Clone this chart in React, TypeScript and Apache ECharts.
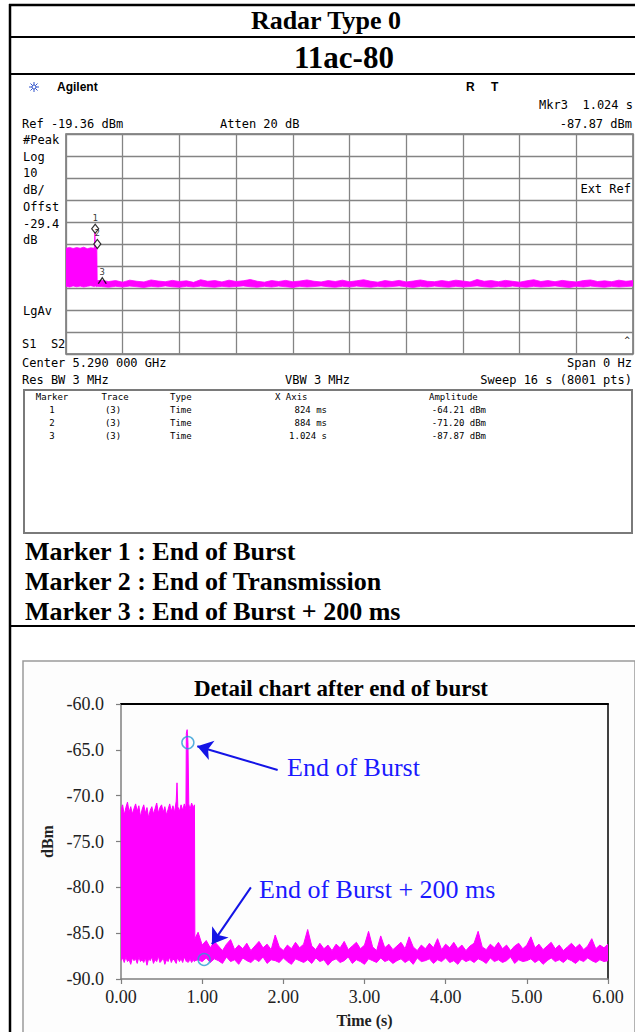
import React, { useEffect, useRef } from "react";
import * as echarts from "echarts";

const W = 635;
const H = 1032;

// ---------- Header texts ----------
const TITLE_1 = "Radar Type 0";
const TITLE_2 = "11ac-80";

// ---------- Spectrum analyzer (sweep 16 s, ref -19.36 dBm, 10 dB/div) ----------
const AN_REF = -19.36;
const AN_DB_PER_DIV = 10;
const AN_SWEEP = 16;
const AN_T = [
  0, 0.1, 0.2, 0.3, 0.4, 0.5, 0.6, 0.7, 0.8, 0.815, 0.83, 0.87, 0.88,
  1.0, 1.2, 1.4, 1.6, 1.8, 2.0, 2.2, 2.4, 2.6, 2.8, 3.0, 3.2, 3.4, 3.6, 3.8,
  4.0, 4.2, 4.4, 4.6, 4.8, 5.0, 5.2, 5.4, 5.6, 5.8, 6.0, 6.2, 6.4, 6.6, 6.8,
  7.0, 7.2, 7.4, 7.6, 7.8, 8.0, 8.2, 8.4, 8.6, 8.8, 9.0, 9.2, 9.4, 9.6, 9.8,
  10.0, 10.2, 10.4, 10.6, 10.8, 11.0, 11.2, 11.4, 11.6, 11.8, 12.0, 12.2, 12.4,
  12.6, 12.8, 13.0, 13.2, 13.4, 13.6, 13.8, 14.0, 14.2, 14.4, 14.6, 14.8, 15.0,
  15.2, 15.4, 15.6, 15.8, 16.0,
];
const AN_HI = [
  -71.3, -70.9, -71.4, -71.0, -71.3, -70.8, -71.5, -71.1, -71.3, -64.2, -71.0, -71.2, -86.0,
  -85.9, -86.4, -86.0, -86.7, -85.8, -86.3, -86.6, -85.7, -86.2, -86.5, -85.9, -86.4, -86.1, -86.8, -85.6,
  -86.3, -86.0, -86.6, -85.8, -86.4, -86.1, -85.5, -86.3, -86.7, -86.0, -86.4, -85.9, -86.5, -86.2, -85.7,
  -86.3, -86.6, -86.0, -86.4, -85.8, -86.5, -86.1, -85.6, -86.3, -86.7, -86.0, -86.4, -85.9, -86.6, -86.2,
  -85.7, -86.3, -86.5, -86.0, -86.4, -85.8, -86.2, -86.6, -85.5, -86.3, -86.0, -86.5, -85.9,
  -86.3, -86.7, -86.1, -85.6, -86.4, -86.0, -86.5, -85.9, -86.3, -86.6, -86.0, -85.7, -86.4,
  -86.1, -86.5, -85.8, -86.3, -86.0,
];
const AN_LO = [
  -88.6, -88.9, -88.4, -88.8, -88.5, -88.9, -88.6, -88.3, -88.7, -88.6, -88.5, -88.8, -88.6,
  -88.7, -89.0, -88.6, -88.9, -88.5, -88.8, -89.1, -88.6, -88.9, -88.4, -88.8, -89.0, -88.6, -88.9, -88.5,
  -88.8, -89.0, -88.6, -88.9, -88.7, -88.4, -88.8, -89.0, -88.6, -88.9, -88.5, -88.8, -89.1, -88.6, -88.9,
  -88.7, -88.4, -88.8, -89.0, -88.6, -88.9, -88.5, -88.8, -89.0, -88.6, -88.9, -88.7, -88.4, -88.8, -89.1,
  -88.6, -88.9, -88.5, -88.8, -89.0, -88.6, -88.9, -88.7, -88.4, -88.8, -89.0, -88.6, -88.9,
  -88.5, -88.8, -89.0, -88.6, -88.9, -88.7, -88.4, -88.8, -89.1, -88.6, -88.9, -88.5, -88.8,
  -89.0, -88.6, -88.9, -88.7, -88.5,
];

// markers (time s, amplitude dBm)
const MARKER_NO = ["1", "2", "3"];
const MARKER_T = [0.824, 0.884, 1.024];
const MARKER_DBM = [-64.21, -71.2, -87.87];
const MARKER_XTXT = ["824 ms", "884 ms", "1.024 s"];
const MARKER_AMPTXT = ["-64.21 dBm", "-71.20 dBm", "-87.87 dBm"];

// ---------- Detail chart ----------
const DT_T = [
  0.0, 0.02, 0.04, 0.06, 0.08, 0.1, 0.12, 0.14, 0.16, 0.18, 0.2, 0.22, 0.24, 0.26, 0.28,
  0.3, 0.32, 0.34, 0.36, 0.38, 0.4, 0.42, 0.44, 0.46, 0.48, 0.5, 0.52, 0.54, 0.56, 0.58,
  0.6, 0.62, 0.64, 0.66, 0.68, 0.69, 0.7, 0.72, 0.74, 0.76, 0.78, 0.8, 0.805, 0.815, 0.825,
  0.835, 0.85, 0.87, 0.89, 0.905, 0.91, 0.95,
  1.0, 1.05, 1.1, 1.15, 1.2, 1.25, 1.3, 1.35, 1.4, 1.45, 1.5, 1.55, 1.6, 1.65, 1.7, 1.75,
  1.8, 1.85, 1.9, 1.95, 2.0, 2.05, 2.1, 2.15, 2.2, 2.25, 2.3, 2.35, 2.4, 2.45, 2.5, 2.55,
  2.6, 2.65, 2.7, 2.75, 2.8, 2.85, 2.9, 2.95, 3.0, 3.05, 3.1, 3.15, 3.2, 3.25, 3.3, 3.35,
  3.4, 3.45, 3.5, 3.55, 3.6, 3.65, 3.7, 3.75, 3.8, 3.85, 3.9, 3.95, 4.0, 4.05, 4.1, 4.15,
  4.2, 4.25, 4.3, 4.35, 4.4, 4.45, 4.5, 4.55, 4.6, 4.65, 4.7, 4.75, 4.8, 4.85, 4.9, 4.95,
  5.0, 5.05, 5.1, 5.15, 5.2, 5.25, 5.3, 5.35, 5.4, 5.45, 5.5, 5.55, 5.6, 5.65, 5.7, 5.75,
  5.8, 5.85, 5.9, 5.95, 6.0,
];
const DT_HI = [
  -71.6, -71.0, -72.1, -71.3, -70.7, -71.8, -71.2, -72.0, -71.4, -70.9, -71.7, -71.1, -72.3, -71.5, -71.0,
  -71.9, -71.3, -72.4, -71.6, -71.2, -72.0, -71.4, -70.8, -71.9, -71.3, -71.0, -71.8, -71.2, -72.1, -71.5,
  -70.9, -71.7, -71.1, -71.8, -70.6, -68.6, -71.2, -71.7, -71.0, -71.6, -70.9, -71.4, -63.2, -62.8, -64.2,
  -70.9, -71.5, -70.8, -71.3, -71.0, -85.6, -84.9,
  -86.3, -85.8, -86.6, -85.9, -86.4, -86.9, -86.2, -85.7, -86.8, -86.3, -86.7, -86.1, -86.9, -86.4, -85.9, -86.6,
  -86.2, -86.8, -85.2, -86.5, -86.9, -86.3, -86.7, -86.0, -86.6, -86.2, -84.6, -86.4, -86.8, -86.1, -86.7, -86.3,
  -86.9, -86.2, -86.6, -85.9, -86.8, -86.4, -86.0, -86.7, -86.3, -84.8, -86.5, -86.9, -85.3, -86.6, -86.2, -86.8,
  -86.4, -86.0, -86.7, -85.4, -86.5, -86.9, -86.3, -86.7, -86.1, -86.6, -85.6, -86.8, -86.2, -86.6, -86.0, -86.7,
  -86.3, -86.9, -86.4, -86.1, -84.8, -86.5, -86.8, -86.2, -86.6, -86.0, -86.7, -86.3, -86.9, -86.4, -86.1, -86.7,
  -86.3, -85.4, -86.6, -86.2, -86.8, -86.4, -86.0, -86.7, -86.3, -86.9, -86.5, -86.1, -86.6, -86.2, -86.8, -86.4,
  -85.6, -86.7, -86.3, -86.6, -86.2,
];
const DT_LO = [
  -88.0, -87.7, -88.2, -87.6, -88.1, -87.9, -88.4, -87.7, -88.0, -87.8, -88.3, -87.6, -88.1, -87.9, -88.2,
  -87.7, -88.5, -87.8, -88.0, -87.6, -88.3, -87.9, -88.1, -87.5, -88.2, -88.0, -87.7, -88.4, -87.9, -88.1,
  -87.6, -88.2, -87.8, -88.0, -88.3, -87.9, -87.7, -88.1, -87.8, -88.2, -87.6, -88.0, -88.1, -87.9, -88.2,
  -88.1, -87.8, -88.2, -87.9, -88.1, -88.0, -87.9,
  -88.1, -87.7, -88.2, -87.8, -88.0, -88.3, -87.6, -88.1, -87.9, -88.4, -87.7, -88.0, -88.2, -87.8, -88.1, -87.6,
  -88.3, -87.9, -88.0, -88.2, -87.7, -88.1, -88.4, -87.8, -88.0, -88.2, -87.9, -88.3, -87.7, -88.1, -87.9, -88.5,
  -88.0, -87.8, -88.2, -88.0, -87.6, -88.3, -87.9, -88.1, -88.4, -87.8, -88.0, -88.2, -87.7, -88.1, -87.9, -88.3,
  -88.0, -87.8, -88.2, -87.9, -88.4, -87.7, -88.1, -88.0, -87.8, -88.3, -87.9, -88.1, -87.7, -88.2, -88.0, -88.4,
  -87.8, -88.1, -87.9, -88.2, -87.8, -88.0, -88.3, -87.7, -88.1, -87.9, -88.2, -88.0, -87.6, -88.3, -87.9, -88.1,
  -88.0, -87.8, -88.2, -87.9, -88.4, -88.0, -87.7, -88.1, -87.9, -88.2, -87.8, -88.0, -88.3, -87.9, -88.1, -87.7,
  -88.0, -88.2, -87.9, -88.1, -88.0,
];
const DT_X_TICKS = [0, 1, 2, 3, 4, 5, 6];
const DT_Y_TICKS = [-90, -85, -80, -75, -70, -65, -60];
// annotation arrows [tailT, tailDbm, headT, headDbm]
const ARROW_BURST = [1.93, -67.2, 0.94, -64.6];
const ARROW_200 = [1.6, -80.0, 1.12, -86.2];

const MAGENTA = "#ff00ff";
const SERIF = "'Liberation Serif', 'Times New Roman', serif";
const MONO = "'DejaVu Sans Mono', 'Liberation Mono', monospace";

function txt(
  text: string,
  x: number,
  y: number,
  font: string,
  align: string = "left",
  fill: string = "#000",
  scaleX: number = 1
) {
  return {
    type: "text",
    x,
    y,
    scaleX,
    silent: true,
    style: {
      text,
      font,
      fill,
      align,
      verticalAlign: "middle",
      textAlign: align,
      textVerticalAlign: "middle",
    },
  };
}
function hline(x1: number, x2: number, y: number, w: number, color = "#000") {
  return { type: "line", silent: true, shape: { x1, y1: y, x2, y2: y }, style: { stroke: color, lineWidth: w } };
}
function vline(x: number, y1: number, y2: number, w: number, color = "#000") {
  return { type: "line", silent: true, shape: { x1: x, y1, x2: x, y2 }, style: { stroke: color, lineWidth: w } };
}

// envelope polygon drawn through the axis scales of a custom series
function envelopeSeries(T: number[], HI: number[], LO: number[], xAxisIndex: number, yAxisIndex: number, lw: number) {
  return {
    type: "custom",
    xAxisIndex,
    yAxisIndex,
    silent: true,
    clip: true,
    data: [[T[0], LO[0]]],
    encode: { x: 0, y: 1 },
    renderItem: (_params: any, api: any) => {
      const pts: number[][] = [];
      for (let i = 0; i < T.length; i++) pts.push(api.coord([T[i], HI[i]]));
      for (let i = T.length - 1; i >= 0; i--) pts.push(api.coord([T[i], LO[i]]));
      return {
        type: "polygon",
        shape: { points: pts },
        style: { fill: MAGENTA, stroke: MAGENTA, lineWidth: lw, lineJoin: "miter" },
      };
    },
  };
}

function buildOption() {
  const caret = "path://M0,8 L5,0 L10,8";
  const anMarkers = MARKER_T.map((t, i) => ({
    value: [t, MARKER_DBM[i]],
    symbol: i < 2 ? "diamond" : caret,
    symbolSize: i < 2 ? [7, 9] : [8, 6],
    symbolOffset: [0, -4],
    itemStyle: { color: i < 2 ? "#fff" : "rgba(0,0,0,0)", borderColor: "#000", borderWidth: 1.2 },
    label: { formatter: MARKER_NO[i] },
  }));

  const G: any[] = [];
  G.push({
    type: "rect",
    z: -10,
    silent: true,
    shape: { x: 23, y: 661, width: 612, height: 380 },
    style: { fill: "#fdfdfd", stroke: "#9a9a9a", lineWidth: 1.5 },
  });
  G.push(hline(9, 635, 5, 2.5));
  G.push(vline(10, 4, 1032, 2.5));
  G.push(hline(9, 635, 37, 2));
  G.push(hline(9, 635, 74, 2));
  G.push(hline(9, 635, 626, 2));
  G.push(txt(TITLE_1, 326, 20, `bold 26px ${SERIF}`, "center"));
  G.push(txt(TITLE_2, 344, 57, `bold 31px ${SERIF}`, "center"));
  const lc = "#3355cc";
  G.push({ type: "line", silent: true, shape: { x1: 29, y1: 87, x2: 39, y2: 87 }, style: { stroke: lc, lineWidth: 1 } });
  G.push({ type: "line", silent: true, shape: { x1: 34, y1: 82, x2: 34, y2: 92 }, style: { stroke: lc, lineWidth: 1 } });
  G.push({ type: "line", silent: true, shape: { x1: 30.5, y1: 83.5, x2: 37.5, y2: 90.5 }, style: { stroke: lc, lineWidth: 1 } });
  G.push({ type: "line", silent: true, shape: { x1: 30.5, y1: 90.5, x2: 37.5, y2: 83.5 }, style: { stroke: lc, lineWidth: 1 } });
  G.push({ type: "circle", silent: true, shape: { cx: 34, cy: 87, r: 2 }, style: { fill: "#fff", stroke: lc, lineWidth: 1 } });
  G.push(txt("Agilent", 57, 87, `bold 12px 'Liberation Sans', Arial, sans-serif`));
  G.push(txt("R", 466, 87, `bold 12px 'Liberation Sans', Arial, sans-serif`));
  G.push(txt("T", 491, 87, `bold 12px 'Liberation Sans', Arial, sans-serif`));
  const m12 = `12px ${MONO}`;
  G.push(txt("Mkr3  1.024 s", 633, 105, m12, "right"));
  G.push(txt("Ref -19.36 dBm", 22, 124, m12));
  G.push(txt("Atten 20 dB", 220, 124, m12));
  G.push(txt("-87.87 dBm", 632, 124, m12, "right"));
  const leftLabels = ["#Peak", "Log", "10", "dB/", "Offst", "-29.4", "dB"];
  const leftY = [140, 157, 173, 190, 207, 224, 240];
  leftLabels.forEach((s, i) => G.push(txt(s, 23, leftY[i], m12)));
  G.push(txt("LgAv", 23, 311, m12));
  G.push(txt("S1  S2", 22, 344, m12));
  G.push(txt("Ext Ref", 631, 189, m12, "right"));
  G.push(txt("^", 630, 340, `9px ${MONO}`, "right"));
  G.push(txt("Center 5.290 000 GHz", 22, 363, m12));
  G.push(txt("Span 0 Hz", 632, 363, m12, "right"));
  G.push(txt("Res BW 3 MHz", 22, 380, m12));
  G.push(txt("VBW 3 MHz", 285, 380, m12));
  G.push(txt("Sweep 16 s (8001 pts)", 632, 380, m12, "right"));
  G.push({
    type: "rect",
    silent: true,
    shape: { x: 24, y: 390, width: 608, height: 143 },
    style: { fill: "none", stroke: "#7a7a7a", lineWidth: 2 },
  });
  const m9 = `9px ${MONO}`;
  G.push(txt("Marker", 52, 397, m9, "center"));
  G.push(txt("Trace", 115, 397, m9, "center"));
  G.push(txt("Type", 170, 397, m9));
  G.push(txt("X Axis", 275, 397, m9));
  G.push(txt("Amplitude", 429, 397, m9));
  MARKER_NO.forEach((n, i) => {
    const y = 410 + i * 13;
    G.push(txt(n, 52, y, m9, "center"));
    G.push(txt("(3)", 113, y, m9, "center"));
    G.push(txt("Time", 170, y, m9));
    G.push(txt(MARKER_XTXT[i], 327, y, m9, "right"));
    G.push(txt(MARKER_AMPTXT[i], 486, y, m9, "right"));
  });
  const b26 = `bold 26px ${SERIF}`;
  G.push(txt("Marker 1 : End of Burst", 25, 551, b26));
  G.push(txt("Marker 2 : End of Transmission", 25, 581, b26));
  G.push(txt("Marker 3 : End of Burst + 200 ms", 25, 611, b26));
  G.push(txt("Detail chart after end of burst", 341, 688, `bold 23px ${SERIF}`, "center"));
  G.push(txt("End of Burst", 287, 767, `26px ${SERIF}`, "left", "#1a1aff"));
  G.push(txt("End of Burst + 200 ms", 259, 889, `26px ${SERIF}`, "left", "#1a1aff"));

  const gridLine = { lineStyle: { color: "#848484", width: 1.3 } };

  return {
    animation: false,
    backgroundColor: "#ffffff",
    graphic: { elements: G },
    grid: [
      { left: 66, top: 134, width: 567, height: 220, show: true, borderColor: "#6e6e6e", borderWidth: 1.5, backgroundColor: "transparent" },
      { left: 121, top: 704, width: 487, height: 275, show: false },
    ],
    xAxis: [
      {
        gridIndex: 0, type: "value", min: 0, max: AN_SWEEP, interval: AN_SWEEP / 10,
        axisLine: { show: false }, axisTick: { show: false }, axisLabel: { show: false },
        splitLine: { show: true, ...gridLine },
      },
      {
        gridIndex: 1, type: "value", min: DT_X_TICKS[0], max: DT_X_TICKS[DT_X_TICKS.length - 1], interval: 1,
        axisLine: { show: true, onZero: false, lineStyle: { color: "#7f7f7f", width: 1.5 } },
        axisTick: { show: true, inside: false, length: 5, lineStyle: { color: "#7f7f7f", width: 1.2 } },
        axisLabel: { formatter: (v: number) => v.toFixed(2), fontFamily: SERIF, fontSize: 18, color: "#222", margin: 9 },
        splitLine: { show: false },
        name: "Time (s)", nameLocation: "middle", nameGap: 33,
        nameTextStyle: { fontFamily: SERIF, fontWeight: "bold", fontSize: 16, color: "#222" },
      },
      {
        gridIndex: 1, type: "value", min: 0, max: 6, position: "top",
        axisLine: { show: true, onZero: false, lineStyle: { color: "#000", width: 2 } },
        axisTick: { show: false }, axisLabel: { show: false }, splitLine: { show: false },
      },
    ],
    yAxis: [
      {
        gridIndex: 0, type: "value", show: false,
        min: AN_REF - 10 * AN_DB_PER_DIV, max: AN_REF, splitLine: { show: false },
      },
      {
        gridIndex: 0, type: "value", min: 0, max: 10, interval: 1,
        axisLine: { show: false }, axisTick: { show: false }, axisLabel: { show: false },
        splitLine: { show: true, ...gridLine },
      },
      {
        gridIndex: 1, type: "value", min: DT_Y_TICKS[0], max: DT_Y_TICKS[DT_Y_TICKS.length - 1], interval: 5,
        axisLine: { show: true, onZero: false, lineStyle: { color: "#7f7f7f", width: 1.5 } },
        axisTick: { show: true, inside: false, length: 5, lineStyle: { color: "#7f7f7f", width: 1.2 } },
        axisLabel: { formatter: (v: number) => v.toFixed(1), fontFamily: SERIF, fontSize: 18, color: "#222", margin: 17 },
        splitLine: { show: false },
        name: "dBm", nameLocation: "middle", nameGap: 60, nameRotate: 90,
        nameTextStyle: { fontFamily: SERIF, fontWeight: "bold", fontSize: 16, color: "#222" },
      },
      {
        gridIndex: 1, type: "value", min: -90, max: -60, position: "right",
        axisLine: { show: true, onZero: false, lineStyle: { color: "#000", width: 1.5 } },
        axisTick: { show: false }, axisLabel: { show: false }, splitLine: { show: false },
      },
    ],
    series: [
      envelopeSeries(AN_T, AN_HI, AN_LO, 0, 0, 0.8),
      {
        name: "anMarkers", type: "scatter", xAxisIndex: 0, yAxisIndex: 0, data: anMarkers, silent: true, z: 5,
        label: { show: true, position: "top", distance: 1, fontFamily: MONO, fontSize: 9, color: "#000" },
      },
      envelopeSeries(DT_T, DT_HI, DT_LO, 1, 2, 1),
      {
        name: "dtMarkers", type: "scatter", xAxisIndex: 1, yAxisIndex: 2, silent: true, z: 5,
        data: [0, 2].map((i) => [MARKER_T[i], MARKER_DBM[i]]),
        symbol: "circle", symbolSize: 12,
        itemStyle: { color: "rgba(0,0,0,0)", borderColor: "#2a9bd4", borderWidth: 1.5 },
        markLine: {
          silent: true, animation: false,
          symbol: ["none", "arrow"], symbolSize: 15,
          label: { show: false },
          lineStyle: { color: "#1414e6", width: 2, type: "solid" },
          emphasis: { disabled: true },
          data: [
            [{ coord: [ARROW_BURST[0], ARROW_BURST[1]] }, { coord: [ARROW_BURST[2], ARROW_BURST[3]] }],
            [{ coord: [ARROW_200[0], ARROW_200[1]] }, { coord: [ARROW_200[2], ARROW_200[3]] }],
          ],
        },
      },
    ],
  };
}

export default function App() {
  const ref = useRef<HTMLDivElement>(null);
  useEffect(() => {
    if (!ref.current) return;
    const chart = echarts.init(ref.current, null, { renderer: "svg", width: W, height: H });
    chart.setOption(buildOption() as any);
    return () => chart.dispose();
  }, []);
  return (
    <div
      ref={ref}
      style={{ position: "absolute", left: 0, top: 0, width: W, height: H, background: "#fff" }}
    />
  );
}
